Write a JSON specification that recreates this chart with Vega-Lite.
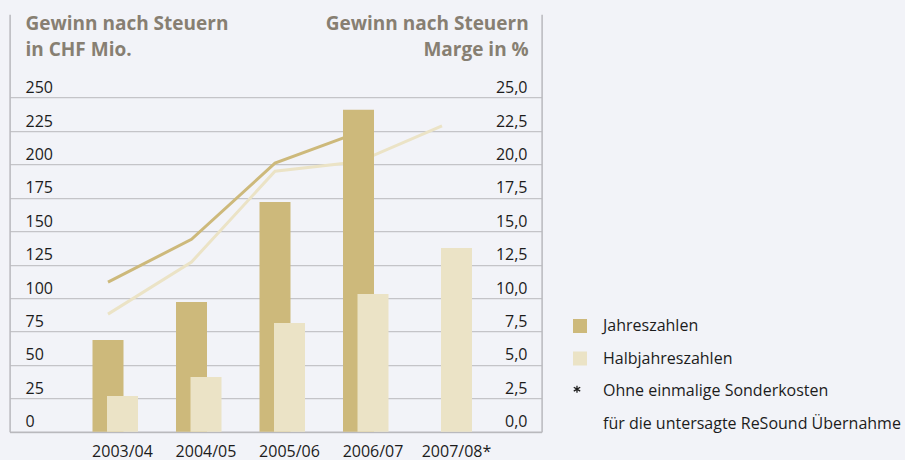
{
  "$schema": "https://vega.github.io/schema/vega-lite/v6.json",
  "width": 532,
  "height": 417.5,
  "autosize": "none",
  "padding": {"left": 9.6, "top": 14.2, "right": 363.4, "bottom": 28.3},
  "background": "#f2f3f8",
  "config": {
    "view": {"stroke": null},
    "font": "Open Sans",
    "axis": {
      "labelFont": "Open Sans",
      "labelFontSize": 16,
      "labelColor": "#1c1c1c",
      "labelOverlap": false,
      "domainColor": "#b9b9bd",
      "domainWidth": 1.5,
      "ticks": false,
      "titleFont": "Open Sans",
      "titleFontSize": 19,
      "titleFontWeight": "bold",
      "titleColor": "#877f72"
    },
    "legend": {
      "labelFont": "Open Sans",
      "labelFontSize": 16,
      "labelColor": "#1c1c1c"
    }
  },
  "datasets": {
    "bars": [
      {"period": "2003/04", "series": "Jahreszahlen", "profit": 68.6},
      {"period": "2004/05", "series": "Jahreszahlen", "profit": 97.1},
      {"period": "2005/06", "series": "Jahreszahlen", "profit": 172.0},
      {"period": "2006/07", "series": "Jahreszahlen", "profit": 241.0},
      {"period": "2003/04", "series": "Halbjahreszahlen", "profit": 26.7},
      {"period": "2004/05", "series": "Halbjahreszahlen", "profit": 41.0},
      {"period": "2005/06", "series": "Halbjahreszahlen", "profit": 81.4},
      {"period": "2006/07", "series": "Halbjahreszahlen", "profit": 103.0},
      {"period": "2007/08*", "series": "Halbjahreszahlen", "profit": 137.5}
    ],
    "lines": [
      {"period": "2003/04", "series": "Jahreszahlen", "margin": 11.2},
      {"period": "2004/05", "series": "Jahreszahlen", "margin": 14.4},
      {"period": "2005/06", "series": "Jahreszahlen", "margin": 20.1},
      {"period": "2006/07", "series": "Jahreszahlen", "margin": 22.4},
      {"period": "2003/04", "series": "Halbjahreszahlen", "margin": 8.8},
      {"period": "2004/05", "series": "Halbjahreszahlen", "margin": 12.7},
      {"period": "2005/06", "series": "Halbjahreszahlen", "margin": 19.5},
      {"period": "2006/07", "series": "Halbjahreszahlen", "margin": 20.2},
      {"period": "2007/08*", "series": "Halbjahreszahlen", "margin": 22.9}
    ]
  },
  "encoding": {
    "x": {
      "field": "period",
      "type": "nominal",
      "sort": ["2003/04", "2004/05", "2005/06", "2006/07", "2007/08*"],
      "scale": {"paddingInner": 0, "paddingOuter": 0.6856, "align": 0.6214},
      "axis": {"title": null, "labelAngle": 0, "labelPadding": 12, "grid": false}
    }
  },
  "layer": [
    {
      "data": {"name": "lines"},
      "mark": {"type": "line", "strokeWidth": 3, "xOffset": -14.5},
      "encoding": {
        "y": {
          "field": "margin",
          "type": "quantitative",
          "scale": {"domain": [0, 31.25], "nice": false},
          "axis": {
            "orient": "right",
            "values": [0, 2.5, 5, 7.5, 10, 12.5, 15, 17.5, 20, 22.5, 25],
            "labelExpr": "replace(format(datum.value, '.1f'), '.', ',')",
            "labelAlign": "right",
            "labelBaseline": "alphabetic",
            "labelPadding": -14.6,
            "labelOffset": -5,
            "grid": false,
            "title": ["Gewinn nach Steuern", "Marge in %"],
            "titleAngle": 0,
            "titleAlign": "right",
            "titleBaseline": "alphabetic",
            "titleX": -13.4,
            "titleY": 15.1,
            "titleLineHeight": 26
          }
        },
        "stroke": {
          "field": "series",
          "type": "nominal",
          "scale": {"domain": ["Jahreszahlen", "Halbjahreszahlen"], "range": ["#cdb97b", "#ebe3c6"]},
          "legend": null
        },
        "detail": {"field": "series"}
      }
    },
    {
      "data": {"name": "bars"},
      "encoding": {
        "y": {
          "field": "profit",
          "type": "quantitative",
          "scale": {"domain": [0, 312.5], "nice": false},
          "axis": {
            "orient": "left",
            "values": [0, 25, 50, 75, 100, 125, 150, 175, 200, 225, 250],
            "labelAlign": "left",
            "labelBaseline": "alphabetic",
            "labelPadding": -15.4,
            "labelOffset": -5,
            "grid": true,
            "gridColor": "#c4c4c8",
            "gridWidth": 1.3,
            "title": ["Gewinn nach Steuern", "in CHF Mio."],
            "titleAngle": 0,
            "titleAlign": "left",
            "titleBaseline": "alphabetic",
            "titleX": 15.4,
            "titleY": 15.1,
            "titleLineHeight": 26
          }
        },
        "fill": {
          "field": "series",
          "type": "nominal",
          "scale": {
            "domain": ["Jahreszahlen", "Halbjahreszahlen", "Ohne einmalige Sonderkosten", "für die untersagte ReSound Übernahme"],
            "range": ["#cdb97b", "#ebe3c6", "#f2f3f8", "#f2f3f8"]
          },
          "legend": {
            "title": null,
            "orient": "none",
            "legendX": 562.4,
            "legendY": 303.8,
            "padding": 0,
            "values": ["Jahreszahlen", "Halbjahreszahlen", "Ohne einmalige Sonderkosten", "für die untersagte ReSound Übernahme"],
            "symbolType": "square",
            "symbolSize": 196,
            "symbolStrokeWidth": 0,
            "symbolOpacity": 1,
            "labelOffset": 15,
            "rowPadding": 16.5,
            "labelLimit": 400,
            "encode": {
              "symbols": {
                "update": {
                  "shape": {"signal": "datum.value === 'Ohne einmalige Sonderkosten' ? 'M-0.43,-0.76L-0.43,0.24M-0.89,-0.53L0.03,0.01M-0.89,0.01L0.03,-0.53' : 'square'"},
                  "stroke": {"signal": "datum.value === 'Ohne einmalige Sonderkosten' ? '#1c1c1c' : 'transparent'"},
                  "strokeWidth": {"signal": "datum.value === 'Ohne einmalige Sonderkosten' ? 1.3 : 0"}
                }
              }
            }
          }
        }
      },
      "layer": [
        {
          "transform": [{"filter": "datum.series === 'Jahreszahlen'"}],
          "mark": {"type": "bar", "width": 31, "xOffset": -14.5}
        },
        {
          "transform": [{"filter": "datum.series === 'Halbjahreszahlen'"}],
          "mark": {"type": "bar", "width": 31}
        }
      ]
    }
  ],
  "resolve": {"scale": {"y": "independent"}, "axis": {"y": "independent"}}
}
